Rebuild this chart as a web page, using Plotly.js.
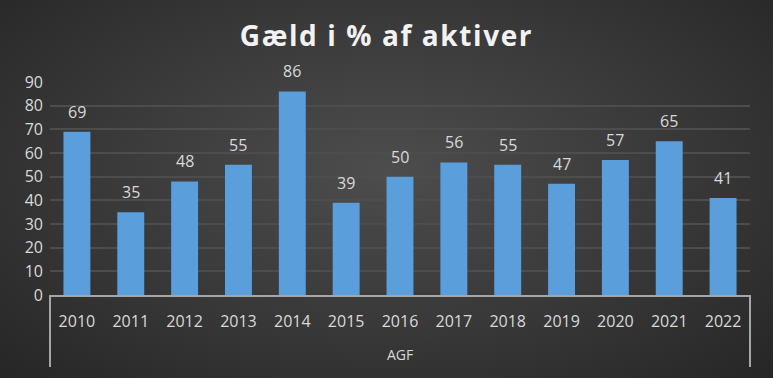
<!DOCTYPE html>
<html>
<head>
<meta charset="utf-8">
<script src="https://cdn.plot.ly/plotly-3.0.1.min.js"></script>
<style>
  html, body { margin: 0; padding: 0; }
  #chart {
    width: 773px; height: 378px;
    background: radial-gradient(ellipse at 50% 45%, #4d4d4d 0%, #3a3a3a 50%, #262626 100%);
  }
  #chart .gtitle { letter-spacing: 1.6px; }
</style>
</head>
<body>
<div id="chart"></div>
<script>
const years = ["2010","2011","2012","2013","2014","2015","2016","2017","2018","2019","2020","2021","2022"];
const debtPct = [69, 35, 48, 55, 86, 39, 50, 56, 55, 47, 57, 65, 41];
const groupLabel = "AGF";
const chartTitle = "Gæld i % af aktiver";
const yTicks = [0, 10, 20, 30, 40, 50, 60, 70, 80, 90];

const font = "Open Sans, DejaVu Sans, sans-serif";

const trace = {
  type: "bar",
  x: years,
  y: debtPct,
  marker: { color: "#5a9edb", line: { width: 0 } },
  hoverinfo: "x+y"
};

// category axis: annotation x given as category index
const labelAnnotations = years.map((yr, i) => ({
  x: i, y: debtPct[i], xref: "x", yref: "y",
  text: String(debtPct[i]), showarrow: false,
  xanchor: "center", yanchor: "bottom", yshift: 7,
  font: { family: font, size: 16, color: "#d9d9d9" }
}));

const layout = {
  width: 773, height: 378,
  margin: { l: 50, r: 23, t: 82, b: 83 },
  paper_bgcolor: "rgba(0,0,0,0)",
  plot_bgcolor: "rgba(0,0,0,0)",
  bargap: 0.5,
  showlegend: false,
  title: {
    text: "<b>" + chartTitle + "</b>",
    font: { family: font, size: 28, color: "#f2f2f2" },
    x: 0.5, xanchor: "center",
    y: 0.905, yanchor: "middle"
  },
  xaxis: {
    type: "category",
    categoryarray: years,
    range: [-0.5, years.length - 0.5],
    showgrid: false,
    showline: true, linecolor: "#a6a6a6", linewidth: 2,
    ticks: "",
    tickfont: { family: font, size: 16, color: "#d9d9d9" },
    ticklabelstandoff: 11
  },
  yaxis: {
    range: [0, 90],
    tickvals: yTicks,
    showgrid: true, gridcolor: "#4d4d4d", gridwidth: 2,
    zeroline: false, showline: false, ticks: "",
    tickfont: { family: font, size: 16, color: "#d9d9d9" },
    ticklabelstandoff: 6
  },
  shapes: [
    { type: "line", xref: "paper", yref: "paper", x0: 0, x1: 0, y0: 0, y1: -0.338, line: { color: "#a6a6a6", width: 2 } },
    { type: "line", xref: "paper", yref: "paper", x0: 1, x1: 1, y0: 0, y1: -0.338, line: { color: "#a6a6a6", width: 2 } }
  ],
  annotations: labelAnnotations.concat([
    { text: groupLabel, xref: "paper", yref: "paper", x: 0.5, y: -0.28, xanchor: "center", yanchor: "middle",
      showarrow: false, font: { family: font, size: 14, color: "#d9d9d9" } }
  ])
};

Plotly.newPlot("chart", [trace], layout, { displayModeBar: false, staticPlot: true });
</script>
</body>
</html>
